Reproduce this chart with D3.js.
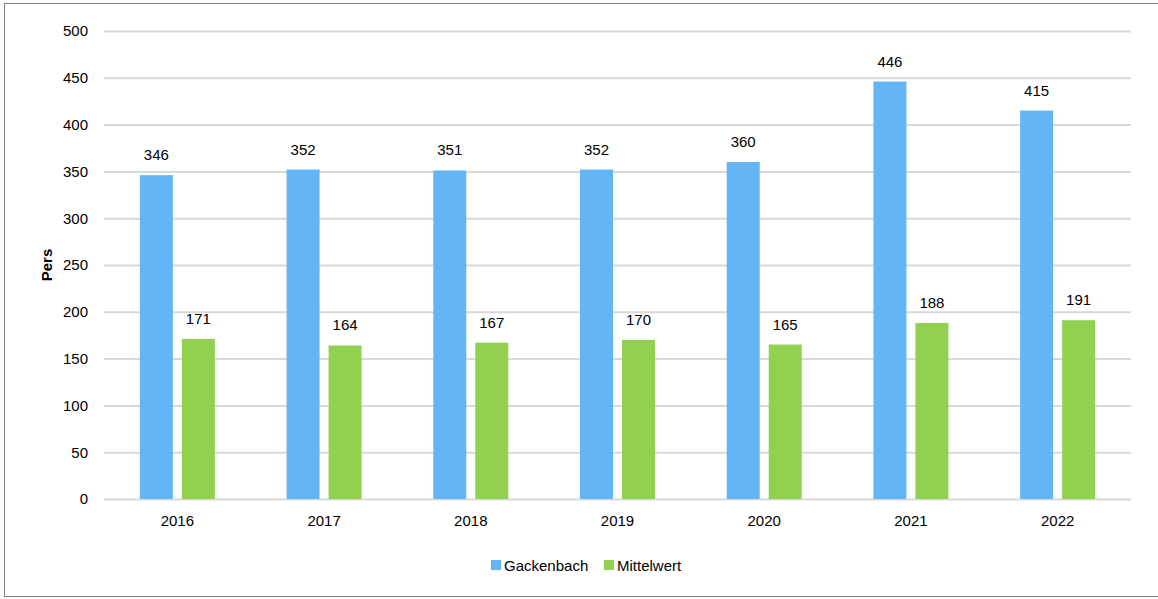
<!DOCTYPE html>
<html><head><meta charset="utf-8">
<script src="https://cdn.jsdelivr.net/npm/d3@7"></script>
<style>body{margin:0;background:#fff;} svg{display:block;font-family:"Liberation Sans",Arial,sans-serif;}</style>
</head><body>
<svg id="c" width="1158" height="599"></svg>
<script>
const years = ["2016","2017","2018","2019","2020","2021","2022"];
const seriesNames = ["Gackenbach","Mittelwert"];
const gackenbach = [346,352,351,352,360,446,415];
const mittelwert = [171,164,167,170,165,188,191];
const yTicks = [0,50,100,150,200,250,300,350,400,450,500];
const colors = ["#64b5f6","#92d050"];

(function(){
const svg = d3.select("#c");
svg.append("rect").attr("x",4.5).attr("y",3.5).attr("width",1170).attr("height",593)
  .attr("fill","#fff").attr("stroke","#7f7f7f").attr("stroke-width",1);

const pLeft=104,pRight=1131,pTop=31,pBottom=499;
const x0 = d3.scaleBand().domain(years).range([pLeft,pRight]);
const y = d3.scaleLinear().domain([0,500]).range([pBottom,pTop]);
const bw = x0.bandwidth();
const x1 = d3.scaleBand().domain(seriesNames).range([bw/2-37.5,bw/2+37.5]).paddingInner(9/42);
const color = d3.scaleOrdinal().domain(seriesNames).range(colors);

// grid
const yAxis = d3.axisLeft(y).tickValues(yTicks).tickSize(-(pRight-pLeft)).tickPadding(16);
const ga = svg.append("g").attr("transform",`translate(${pLeft},0)`).call(yAxis);
ga.select(".domain").remove();
ga.selectAll(".tick line").attr("stroke","#d9d9d9").attr("stroke-width",2);
ga.selectAll(".tick text").attr("font-size",15).attr("fill","#000").attr("font-family","Liberation Sans, Arial, sans-serif");

// x axis labels
const xAxis = d3.axisBottom(x0).tickSize(0).tickPadding(16);
const gx = svg.append("g").attr("transform",`translate(0,${pBottom})`).call(xAxis);
gx.select(".domain").remove();
gx.selectAll(".tick text").attr("font-size",15).attr("fill","#000").attr("font-family","Liberation Sans, Arial, sans-serif");

const data = years.map((yr,i)=>({year:yr, vals:[{s:seriesNames[0],v:gackenbach[i]},{s:seriesNames[1],v:mittelwert[i]}]}));
const groups = svg.append("g").selectAll("g").data(data).join("g")
  .attr("transform",d=>`translate(${x0(d.year)},0)`);
groups.selectAll("rect").data(d=>d.vals).join("rect")
  .attr("x",d=>x1(d.s)).attr("width",x1.bandwidth())
  .attr("y",d=>y(d.v)).attr("height",d=>y(0)-y(d.v))
  .attr("fill",d=>color(d.s));
groups.selectAll("text").data(d=>d.vals).join("text")
  .attr("x",d=>x1(d.s)+x1.bandwidth()/2).attr("y",d=>y(d.v)-15)
  .attr("text-anchor","middle").attr("font-size",15).attr("fill","#000")
  .text(d=>d.v);

// y title
svg.append("text").attr("transform",`translate(52,${(pTop+pBottom)/2}) rotate(-90)`)
  .attr("text-anchor","middle").attr("font-size",15).attr("font-weight","bold").text("Pers");

// legend
const legendX = [491,604];
const lg = svg.append("g").selectAll("g").data(seriesNames).join("g")
  .attr("transform",(d,i)=>`translate(${legendX[i]},565)`);
lg.append("rect").attr("x",0).attr("y",-5).attr("width",10).attr("height",10).attr("fill",d=>color(d));
lg.append("text").attr("x",13).attr("y",5.5).attr("font-size",15).attr("fill","#000").text(d=>d);
})();
</script>
</body></html>
